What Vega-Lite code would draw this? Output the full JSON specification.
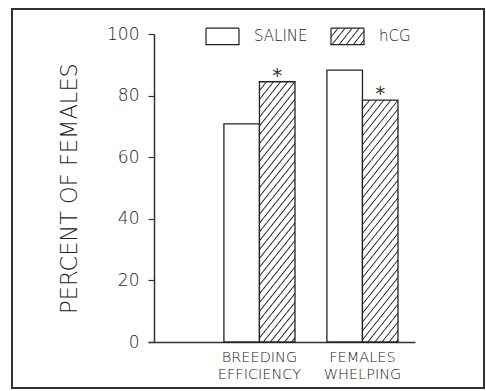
{
  "$schema": "https://vega.github.io/schema/vega-lite/v6.json",
  "width": 472,
  "height": 379,
  "autosize": {"type": "none"},
  "padding": {"left": 12, "top": 9, "right": 2, "bottom": 3},
  "background": "white",
  "config": {
    "font": "DejaVu Sans",
    "view": {"stroke": "#333", "strokeWidth": 2}
  },
  "data": {
    "values": [
      {"cat": "BREEDING EFFICIENCY", "group": "SALINE", "value": 70.8, "sig": ""},
      {"cat": "BREEDING EFFICIENCY", "group": "hCG", "value": 84.5, "sig": "*"},
      {"cat": "FEMALES WHELPING", "group": "SALINE", "value": 88.3, "sig": ""},
      {"cat": "FEMALES WHELPING", "group": "hCG", "value": 78.5, "sig": "*"}
    ]
  },
  "encoding": {
    "x": {
      "field": "cat",
      "type": "nominal",
      "sort": null,
      "scale": {"range": [136, 403], "paddingInner": 0.31, "paddingOuter": 0.451, "align": 0.817},
      "axis": {
        "title": null,
        "orient": "bottom",
        "offset": -46,
        "domainColor": "#333",
        "domainWidth": 1.5,
        "ticks": false,
        "labelAngle": 0,
        "labelFont": "DejaVu Sans",
        "labelFontWeight": 200,
        "labelFontSize": 14.5,
        "labelColor": "#222",
        "labelPadding": 8,
        "labelLineHeight": 17,
        "labelOverlap": false,
        "labelFlush": false,
        "labelExpr": "split(datum.label, ' ')"
      }
    },
    "xOffset": {
      "field": "group",
      "type": "nominal",
      "scale": {"domain": ["SALINE", "hCG"], "paddingInner": 0, "paddingOuter": 0}
    },
    "y": {
      "field": "value",
      "type": "quantitative",
      "scale": {"domain": [0, 100], "range": [333, 25], "nice": false},
      "axis": {
        "title": "PERCENT OF FEMALES",
        "orient": "left",
        "offset": -142,
        "values": [0, 20, 40, 60, 80, 100],
        "grid": false,
        "domainColor": "#333",
        "domainWidth": 1.5,
        "tickColor": "#333",
        "tickWidth": 1.2,
        "tickSize": 6,
        "labelFont": "DejaVu Sans",
        "labelFontWeight": 200,
        "labelFontSize": 17,
        "labelColor": "#222",
        "labelPadding": 9,
        "titleFont": "DejaVu Sans",
        "titleFontSize": 22.5,
        "titleFontWeight": 200,
        "titleColor": "#222",
        "titlePadding": 25
      }
    }
  },
  "layer": [
    {
      "mark": {"type": "bar", "stroke": "#222", "strokeWidth": 1.3},
      "encoding": {
        "strokeDash": {
          "field": "group",
          "type": "nominal",
          "scale": {"domain": ["SALINE", "hCG"], "range": [[1, 0], [1, 0]]},
          "legend": {
            "title": null,
            "orient": "none",
            "legendX": 193,
            "legendY": 9.5,
            "direction": "horizontal",
            "padding": 0,
            "symbolType": "M-1,-0.5H1V0.5H-1Z",
            "symbolSize": 1089,
            "symbolStrokeColor": "#222",
            "symbolStrokeWidth": 1.2,
            "labelFont": "DejaVu Sans",
            "labelFontWeight": 200,
            "labelFontSize": 15,
            "labelColor": "#222",
            "labelOffset": 14,
            "columnPadding": 20,
            "encoding": {
              "symbols": {
                "stroke": {"value": "#222"},
                "strokeWidth": {"value": 1.2},
                "strokeDash": {"value": [1, 0]},
                "fill": {
                  "condition": {
                    "test": "datum.value === 'hCG'",
                    "value": {
                      "gradient": "linear", "x1": 0, "y1": 0, "x2": 1.2069, "y2": 0.48276,
                      "stops": [
                        {"offset": 0.127, "color": "#ffffff"}, {"offset": 0.153, "color": "#222222"}, {"offset": 0.179, "color": "#ffffff"},
                        {"offset": 0.280, "color": "#ffffff"}, {"offset": 0.306, "color": "#222222"}, {"offset": 0.332, "color": "#ffffff"},
                        {"offset": 0.433, "color": "#ffffff"}, {"offset": 0.459, "color": "#222222"}, {"offset": 0.485, "color": "#ffffff"},
                        {"offset": 0.586, "color": "#ffffff"}, {"offset": 0.612, "color": "#222222"}, {"offset": 0.638, "color": "#ffffff"},
                        {"offset": 0.739, "color": "#ffffff"}, {"offset": 0.765, "color": "#222222"}, {"offset": 0.791, "color": "#ffffff"},
                        {"offset": 0.892, "color": "#ffffff"}, {"offset": 0.918, "color": "#222222"}, {"offset": 0.944, "color": "#ffffff"}
                      ]
                    }
                  },
                  "value": "white"
                }
              }
            }
          }
        },
        "fill": {
          "condition": [
            {
              "test": "datum.group === 'hCG' && datum.cat === 'BREEDING EFFICIENCY'",
              "value": {
                "gradient": "linear", "x1": 0, "y1": 0, "x2": 0.194, "y2": 1.1375,
                "stops": [
                  {"offset": 0.024, "color": "#ffffff"}, {"offset": 0.029, "color": "#222222"}, {"offset": 0.034, "color": "#ffffff"},
                  {"offset": 0.053, "color": "#ffffff"}, {"offset": 0.058, "color": "#222222"}, {"offset": 0.063, "color": "#ffffff"},
                  {"offset": 0.082, "color": "#ffffff"}, {"offset": 0.087, "color": "#222222"}, {"offset": 0.092, "color": "#ffffff"},
                  {"offset": 0.111, "color": "#ffffff"}, {"offset": 0.116, "color": "#222222"}, {"offset": 0.121, "color": "#ffffff"},
                  {"offset": 0.140, "color": "#ffffff"}, {"offset": 0.145, "color": "#222222"}, {"offset": 0.150, "color": "#ffffff"},
                  {"offset": 0.169, "color": "#ffffff"}, {"offset": 0.174, "color": "#222222"}, {"offset": 0.179, "color": "#ffffff"},
                  {"offset": 0.198, "color": "#ffffff"}, {"offset": 0.203, "color": "#222222"}, {"offset": 0.208, "color": "#ffffff"},
                  {"offset": 0.227, "color": "#ffffff"}, {"offset": 0.232, "color": "#222222"}, {"offset": 0.237, "color": "#ffffff"},
                  {"offset": 0.256, "color": "#ffffff"}, {"offset": 0.261, "color": "#222222"}, {"offset": 0.266, "color": "#ffffff"},
                  {"offset": 0.285, "color": "#ffffff"}, {"offset": 0.290, "color": "#222222"}, {"offset": 0.295, "color": "#ffffff"},
                  {"offset": 0.314, "color": "#ffffff"}, {"offset": 0.319, "color": "#222222"}, {"offset": 0.324, "color": "#ffffff"},
                  {"offset": 0.343, "color": "#ffffff"}, {"offset": 0.348, "color": "#222222"}, {"offset": 0.353, "color": "#ffffff"},
                  {"offset": 0.372, "color": "#ffffff"}, {"offset": 0.377, "color": "#222222"}, {"offset": 0.382, "color": "#ffffff"},
                  {"offset": 0.401, "color": "#ffffff"}, {"offset": 0.406, "color": "#222222"}, {"offset": 0.411, "color": "#ffffff"},
                  {"offset": 0.430, "color": "#ffffff"}, {"offset": 0.435, "color": "#222222"}, {"offset": 0.440, "color": "#ffffff"},
                  {"offset": 0.459, "color": "#ffffff"}, {"offset": 0.464, "color": "#222222"}, {"offset": 0.469, "color": "#ffffff"},
                  {"offset": 0.488, "color": "#ffffff"}, {"offset": 0.493, "color": "#222222"}, {"offset": 0.498, "color": "#ffffff"},
                  {"offset": 0.517, "color": "#ffffff"}, {"offset": 0.522, "color": "#222222"}, {"offset": 0.527, "color": "#ffffff"},
                  {"offset": 0.546, "color": "#ffffff"}, {"offset": 0.551, "color": "#222222"}, {"offset": 0.556, "color": "#ffffff"},
                  {"offset": 0.575, "color": "#ffffff"}, {"offset": 0.580, "color": "#222222"}, {"offset": 0.585, "color": "#ffffff"},
                  {"offset": 0.604, "color": "#ffffff"}, {"offset": 0.609, "color": "#222222"}, {"offset": 0.614, "color": "#ffffff"},
                  {"offset": 0.633, "color": "#ffffff"}, {"offset": 0.638, "color": "#222222"}, {"offset": 0.643, "color": "#ffffff"},
                  {"offset": 0.662, "color": "#ffffff"}, {"offset": 0.667, "color": "#222222"}, {"offset": 0.672, "color": "#ffffff"},
                  {"offset": 0.691, "color": "#ffffff"}, {"offset": 0.696, "color": "#222222"}, {"offset": 0.701, "color": "#ffffff"},
                  {"offset": 0.720, "color": "#ffffff"}, {"offset": 0.725, "color": "#222222"}, {"offset": 0.730, "color": "#ffffff"},
                  {"offset": 0.749, "color": "#ffffff"}, {"offset": 0.754, "color": "#222222"}, {"offset": 0.759, "color": "#ffffff"},
                  {"offset": 0.778, "color": "#ffffff"}, {"offset": 0.783, "color": "#222222"}, {"offset": 0.788, "color": "#ffffff"},
                  {"offset": 0.807, "color": "#ffffff"}, {"offset": 0.812, "color": "#222222"}, {"offset": 0.817, "color": "#ffffff"},
                  {"offset": 0.836, "color": "#ffffff"}, {"offset": 0.841, "color": "#222222"}, {"offset": 0.846, "color": "#ffffff"},
                  {"offset": 0.865, "color": "#ffffff"}, {"offset": 0.870, "color": "#222222"}, {"offset": 0.875, "color": "#ffffff"},
                  {"offset": 0.894, "color": "#ffffff"}, {"offset": 0.899, "color": "#222222"}, {"offset": 0.904, "color": "#ffffff"},
                  {"offset": 0.923, "color": "#ffffff"}, {"offset": 0.928, "color": "#222222"}, {"offset": 0.933, "color": "#ffffff"},
                  {"offset": 0.952, "color": "#ffffff"}, {"offset": 0.957, "color": "#222222"}, {"offset": 0.962, "color": "#ffffff"},
                  {"offset": 0.981, "color": "#ffffff"}, {"offset": 0.986, "color": "#222222"}, {"offset": 0.991, "color": "#ffffff"}
                ]
              }
            },
            {
              "test": "datum.group === 'hCG' && datum.cat === 'FEMALES WHELPING'",
              "value": {
                "gradient": "linear", "x1": 0, "y1": 0, "x2": 0.2103, "y2": 1.1451,
                "stops": [
                  {"offset": 0.026, "color": "#ffffff"}, {"offset": 0.031, "color": "#222222"}, {"offset": 0.036, "color": "#ffffff"},
                  {"offset": 0.057, "color": "#ffffff"}, {"offset": 0.062, "color": "#222222"}, {"offset": 0.067, "color": "#ffffff"},
                  {"offset": 0.088, "color": "#ffffff"}, {"offset": 0.093, "color": "#222222"}, {"offset": 0.098, "color": "#ffffff"},
                  {"offset": 0.119, "color": "#ffffff"}, {"offset": 0.124, "color": "#222222"}, {"offset": 0.129, "color": "#ffffff"},
                  {"offset": 0.150, "color": "#ffffff"}, {"offset": 0.155, "color": "#222222"}, {"offset": 0.160, "color": "#ffffff"},
                  {"offset": 0.181, "color": "#ffffff"}, {"offset": 0.186, "color": "#222222"}, {"offset": 0.191, "color": "#ffffff"},
                  {"offset": 0.212, "color": "#ffffff"}, {"offset": 0.217, "color": "#222222"}, {"offset": 0.222, "color": "#ffffff"},
                  {"offset": 0.243, "color": "#ffffff"}, {"offset": 0.248, "color": "#222222"}, {"offset": 0.253, "color": "#ffffff"},
                  {"offset": 0.274, "color": "#ffffff"}, {"offset": 0.279, "color": "#222222"}, {"offset": 0.284, "color": "#ffffff"},
                  {"offset": 0.305, "color": "#ffffff"}, {"offset": 0.310, "color": "#222222"}, {"offset": 0.315, "color": "#ffffff"},
                  {"offset": 0.336, "color": "#ffffff"}, {"offset": 0.341, "color": "#222222"}, {"offset": 0.346, "color": "#ffffff"},
                  {"offset": 0.367, "color": "#ffffff"}, {"offset": 0.372, "color": "#222222"}, {"offset": 0.377, "color": "#ffffff"},
                  {"offset": 0.398, "color": "#ffffff"}, {"offset": 0.403, "color": "#222222"}, {"offset": 0.408, "color": "#ffffff"},
                  {"offset": 0.429, "color": "#ffffff"}, {"offset": 0.434, "color": "#222222"}, {"offset": 0.439, "color": "#ffffff"},
                  {"offset": 0.460, "color": "#ffffff"}, {"offset": 0.465, "color": "#222222"}, {"offset": 0.470, "color": "#ffffff"},
                  {"offset": 0.491, "color": "#ffffff"}, {"offset": 0.496, "color": "#222222"}, {"offset": 0.501, "color": "#ffffff"},
                  {"offset": 0.522, "color": "#ffffff"}, {"offset": 0.527, "color": "#222222"}, {"offset": 0.532, "color": "#ffffff"},
                  {"offset": 0.553, "color": "#ffffff"}, {"offset": 0.558, "color": "#222222"}, {"offset": 0.563, "color": "#ffffff"},
                  {"offset": 0.584, "color": "#ffffff"}, {"offset": 0.589, "color": "#222222"}, {"offset": 0.594, "color": "#ffffff"},
                  {"offset": 0.615, "color": "#ffffff"}, {"offset": 0.620, "color": "#222222"}, {"offset": 0.625, "color": "#ffffff"},
                  {"offset": 0.646, "color": "#ffffff"}, {"offset": 0.651, "color": "#222222"}, {"offset": 0.656, "color": "#ffffff"},
                  {"offset": 0.677, "color": "#ffffff"}, {"offset": 0.682, "color": "#222222"}, {"offset": 0.687, "color": "#ffffff"},
                  {"offset": 0.708, "color": "#ffffff"}, {"offset": 0.713, "color": "#222222"}, {"offset": 0.718, "color": "#ffffff"},
                  {"offset": 0.739, "color": "#ffffff"}, {"offset": 0.744, "color": "#222222"}, {"offset": 0.749, "color": "#ffffff"},
                  {"offset": 0.770, "color": "#ffffff"}, {"offset": 0.775, "color": "#222222"}, {"offset": 0.780, "color": "#ffffff"},
                  {"offset": 0.801, "color": "#ffffff"}, {"offset": 0.806, "color": "#222222"}, {"offset": 0.811, "color": "#ffffff"},
                  {"offset": 0.832, "color": "#ffffff"}, {"offset": 0.837, "color": "#222222"}, {"offset": 0.842, "color": "#ffffff"},
                  {"offset": 0.863, "color": "#ffffff"}, {"offset": 0.868, "color": "#222222"}, {"offset": 0.873, "color": "#ffffff"},
                  {"offset": 0.894, "color": "#ffffff"}, {"offset": 0.899, "color": "#222222"}, {"offset": 0.904, "color": "#ffffff"},
                  {"offset": 0.925, "color": "#ffffff"}, {"offset": 0.930, "color": "#222222"}, {"offset": 0.935, "color": "#ffffff"},
                  {"offset": 0.956, "color": "#ffffff"}, {"offset": 0.961, "color": "#222222"}, {"offset": 0.966, "color": "#ffffff"},
                  {"offset": 0.987, "color": "#ffffff"}, {"offset": 0.992, "color": "#222222"}, {"offset": 0.997, "color": "#ffffff"}
                ]
              }
            }
          ],
          "value": "white"
        }
      }
    },
    {
      "mark": {"type": "text", "font": "DejaVu Sans", "fontSize": 20, "baseline": "alphabetic", "dy": 0},
      "encoding": {
        "text": {"field": "sig", "type": "nominal"},
        "fill": {"value": "#333"}
      }
    }
  ]
}
